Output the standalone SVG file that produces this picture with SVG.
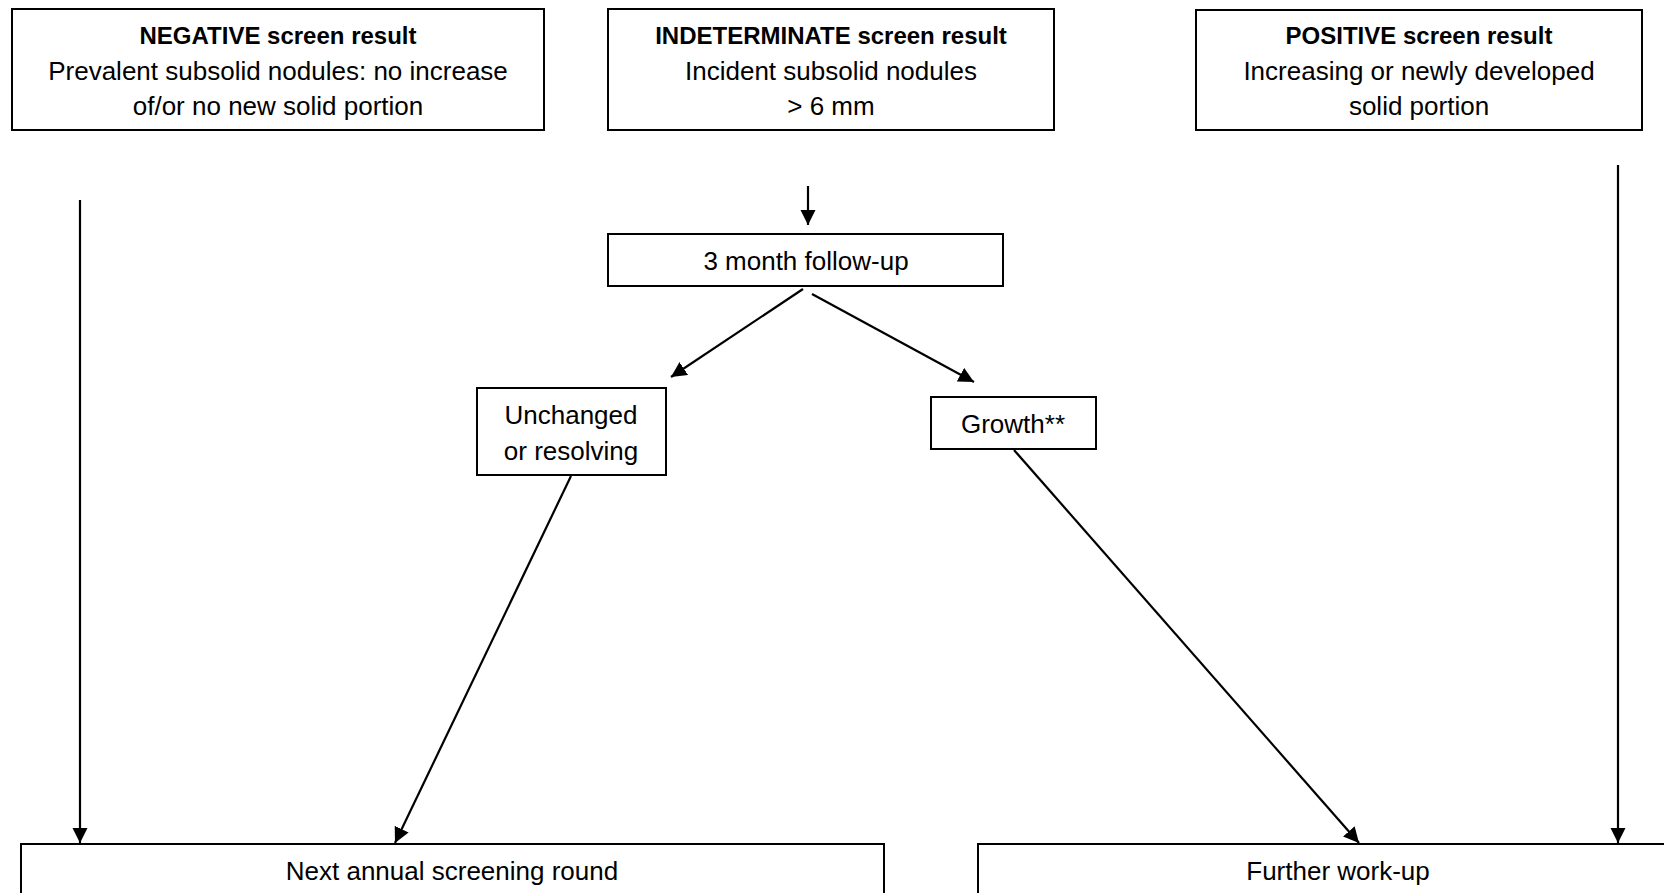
<svg xmlns="http://www.w3.org/2000/svg" width="1664" height="893" viewBox="0 0 1664 893">
<style>
.box{fill:#fff;stroke:#000;stroke-width:2}
text{font-family:"Liberation Sans",Arial,sans-serif;font-size:26px;fill:#000;text-anchor:middle}
.b{font-weight:bold;font-size:24px}
.c line{stroke:#000;stroke-width:2.2;marker-end:url(#ah)}
</style>
<defs>
<marker id="ah" viewBox="0 0 10 10" refX="10" refY="5" markerWidth="7" markerHeight="7" orient="auto" markerUnits="strokeWidth">
<path d="M0,0 L10,5 L0,10 Z" fill="#000"/>
</marker>
</defs>
<rect width="1664" height="893" fill="#fff"/>
<g id="negative">
<rect class="box" x="12" y="9" width="532" height="121"/>
<text class="b" x="278" y="44">NEGATIVE screen result</text>
<text x="278" y="80">Prevalent subsolid nodules: no increase</text>
<text x="278" y="115">of/or no new solid portion</text>
</g>
<g id="indeterminate">
<rect class="box" x="608" y="9" width="446" height="121"/>
<text class="b" x="831" y="44">INDETERMINATE screen result</text>
<text x="831" y="80">Incident subsolid nodules</text>
<text x="831" y="115">&gt; 6 mm</text>
</g>
<g id="positive">
<rect class="box" x="1196" y="10" width="446" height="120"/>
<text class="b" x="1419" y="44">POSITIVE screen result</text>
<text x="1419" y="80">Increasing or newly developed</text>
<text x="1419" y="115">solid portion</text>
</g>
<g id="followup">
<rect class="box" x="608" y="234" width="395" height="52"/>
<text x="806" y="270">3 month follow-up</text>
</g>
<g id="unchanged">
<rect class="box" x="477" y="388" width="189" height="87"/>
<text x="571" y="424">Unchanged</text>
<text x="571" y="460">or resolving</text>
</g>
<g id="growth">
<rect class="box" x="931" y="397" width="165" height="52"/>
<text x="1013" y="433">Growth**</text>
</g>
<g id="nextround">
<rect class="box" x="21" y="844" width="863" height="60"/>
<text x="452" y="880">Next annual screening round</text>
</g>
<g id="workup">
<rect class="box" x="978" y="844" width="700" height="60"/>
<text x="1338" y="880">Further work-up</text>
</g>
<g id="connectors" class="c">
<line x1="808" y1="186" x2="808" y2="225"/>
<line x1="803" y1="289" x2="671" y2="377"/>
<line x1="812" y1="294" x2="974" y2="382"/>
<line x1="571" y1="476" x2="395" y2="843"/>
<line x1="1014" y1="450" x2="1359" y2="843"/>
<line x1="80" y1="200" x2="80" y2="843"/>
<line x1="1618" y1="165" x2="1618" y2="843"/>
</g>
</svg>
